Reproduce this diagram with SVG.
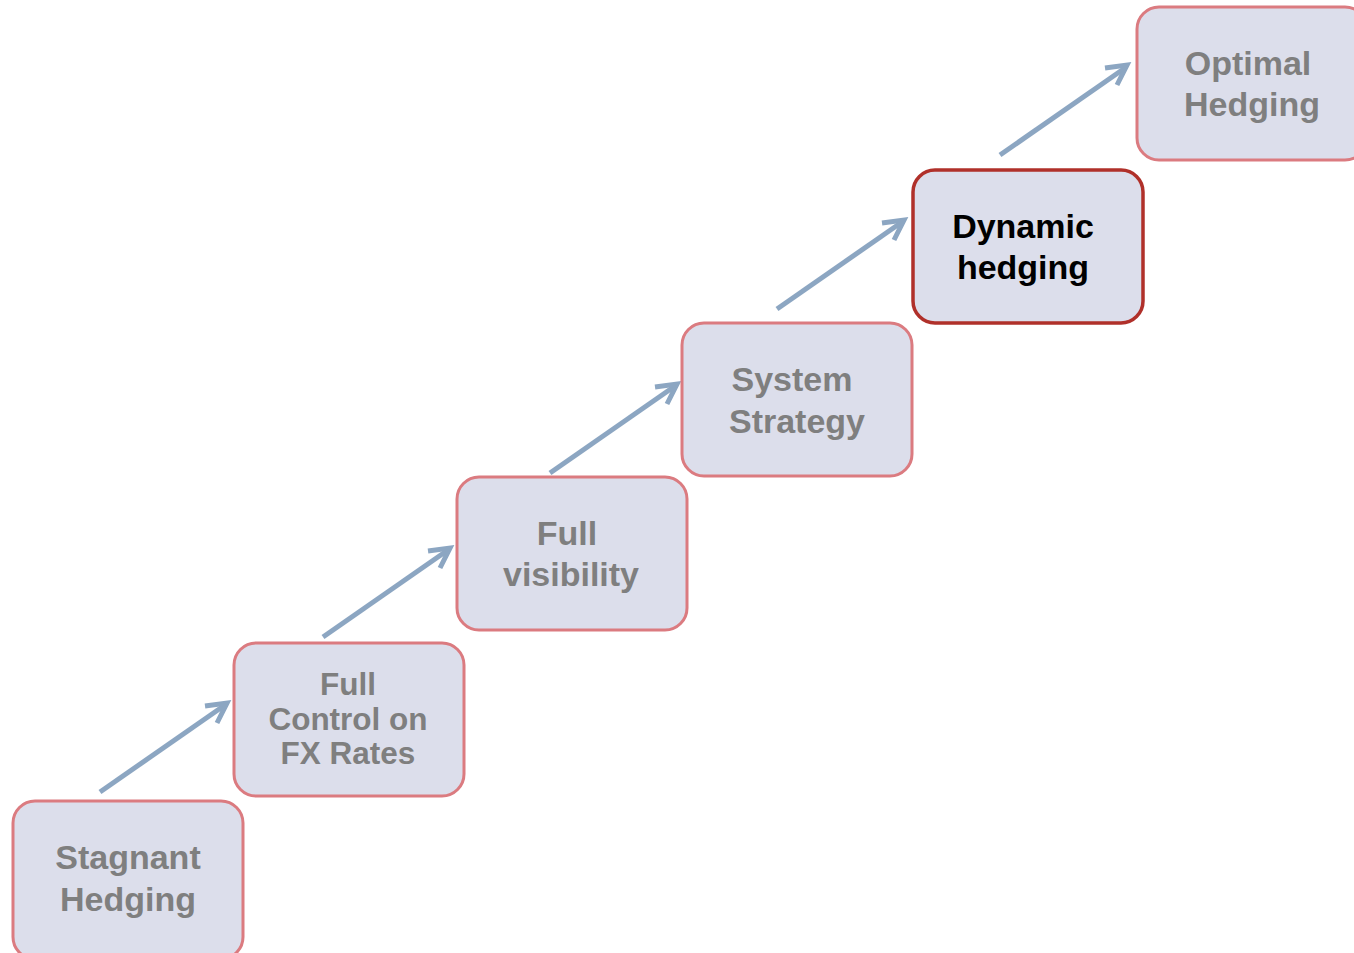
<svg xmlns="http://www.w3.org/2000/svg" width="1354" height="953" viewBox="0 0 1354 953">
<style>
.box{fill:#DCDEEB;stroke:#DB7B80;stroke-width:3}
.hot{fill:#DCDEEB;stroke:#B0302A;stroke-width:3.5}
.t{font-family:"Liberation Sans",Arial,sans-serif;font-weight:bold;font-size:34px;fill:#7F7F7F;text-anchor:middle}
.s{font-size:31.5px}
.k{fill:#000}
.arr{stroke:#8CA6C2;stroke-width:5;fill:none;stroke-linecap:butt}
.hd{stroke:#8CA6C2;stroke-width:5;fill:none;stroke-linejoin:miter;stroke-linecap:butt}
</style>
<rect width="1354" height="953" fill="#fff"/>
<g id="connectors">
<g><line class="arr" x1="100" y1="792" x2="225" y2="705"/><polyline class="hd" points="205,706 227,703 217,723"/></g>
<g><line class="arr" x1="323" y1="637" x2="448" y2="550"/><polyline class="hd" points="428,551 450,548 440,568"/></g>
<g><line class="arr" x1="550" y1="473" x2="675" y2="386"/><polyline class="hd" points="655,387 677,384 667,404"/></g>
<g><line class="arr" x1="777" y1="309" x2="902" y2="222"/><polyline class="hd" points="882,223 904,220 894,240"/></g>
<g><line class="arr" x1="1000" y1="155" x2="1125" y2="68"/><polyline class="hd" points="1105,68 1127,65 1117,85"/></g>
</g>
<g id="stagnant">
<rect class="box" x="13" y="801" width="230" height="158" rx="22"/>
<text class="t" x="128" y="869">Stagnant</text>
<text class="t" x="128" y="911">Hedging</text>
</g>
<g id="fullcontrol">
<rect class="box" x="234" y="643" width="230" height="153" rx="22"/>
<text class="t s" x="348" y="695">Full</text>
<text class="t s" x="348" y="730">Control on</text>
<text class="t s" x="348" y="764">FX Rates</text>
</g>
<g id="fullvisibility">
<rect class="box" x="457" y="477" width="230" height="153" rx="22"/>
<text class="t" x="567" y="545">Full</text>
<text class="t" x="571" y="586">visibility</text>
</g>
<g id="system">
<rect class="box" x="682" y="323" width="230" height="153" rx="22"/>
<text class="t" x="792" y="391">System</text>
<text class="t" x="797" y="433">Strategy</text>
</g>
<g id="dynamic">
<rect class="hot" x="913" y="170" width="230" height="153" rx="22"/>
<text class="t k" x="1023" y="238">Dynamic</text>
<text class="t k" x="1023" y="279">hedging</text>
</g>
<g id="optimal">
<rect class="box" x="1137" y="7" width="230" height="153" rx="22"/>
<text class="t" x="1248" y="75">Optimal</text>
<text class="t" x="1252" y="116">Hedging</text>
</g>
</svg>
